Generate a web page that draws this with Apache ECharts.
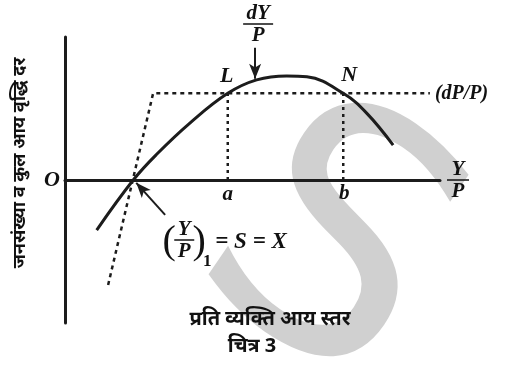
<!DOCTYPE html>
<html>
<head>
<meta charset="utf-8">
<script src="https://cdn.jsdelivr.net/npm/echarts@6/dist/echarts.min.js"></script>
<style>
  html, body { margin: 0; padding: 0; background: #fff; }
  #chart { width: 513px; height: 365px; }
</style>
</head>
<body>
<div id="chart"></div>
<script>
// income growth curve dY/P
var incomeX = [8.45, 18.2, 24.45, 33.3, 43.4, 51.1, 59.1, 64.5, 74.2, 80.5, 87.5]
var incomeY = [-17.5, 0, 9.0, 19.9, 30.3, 35.0, 36.4, 36.1, 30.3, 23.3, 12.2]
// population growth dP/P (dotted)
var popX = [11.5, 23.5, 97.3]
var popY = [-36.7, 30.3, 30.3]
// marked points
var pointL = [43.4, 30.3]
var pointN = [74.2, 30.3]
var pointX = [18.2, 0]

var ink = '#1c1c1c'
var serif = '"Liberation Serif", "DejaVu Serif", serif'
var hindi = '"Noto Sans", "DejaVu Sans", sans-serif'

function zip (xs, ys) {
  return xs.map(function (x, i) { return [x, ys[i]] })
}

var chart = echarts.init(document.getElementById('chart'), null, { renderer: 'canvas' })

chart.setOption({
  animation: false,
  backgroundColor: '#fff',
  grid: { left: 65, right: 73, top: 37, bottom: 42 },
  xAxis: {
    type: 'value', min: 0, max: 100,
    axisLine: { onZero: true, lineStyle: { color: ink, width: 3 } },
    axisTick: { show: false }, axisLabel: { show: false }, splitLine: { show: false }
  },
  yAxis: {
    type: 'value', min: -50, max: 50,
    axisLine: { show: true, onZero: false, lineStyle: { color: ink, width: 3 } },
    axisTick: { show: false }, axisLabel: { show: false }, splitLine: { show: false }
  },
  series: [
    {
      type: 'line', data: zip(incomeX, incomeY), smooth: 0.4, symbol: 'none',
      lineStyle: { color: ink, width: 3 }, z: 5,
      markLine: {
        silent: true, symbol: ['none', 'arrow'], symbolSize: [9, 15],
        label: { show: false },
        lineStyle: { color: ink, width: 2, type: 'solid' },
        data: [
          [{ coord: [50.7, 46.2] }, { coord: [50.7, 35.4] }],
          [{ coord: [26.7, -12.2] }, { coord: [19.0, -1.0] }]
        ]
      }
    },
    {
      type: 'line', data: zip(popX, popY), symbol: 'none',
      lineStyle: { color: ink, width: 2.5, type: [4, 4] }, z: 4
    },
    {
      type: 'line', data: [[pointL[0], 0], pointL], symbol: 'none',
      lineStyle: { color: ink, width: 2.5, type: [3, 4] }, z: 4
    },
    {
      type: 'line', data: [[pointN[0], 0], pointN], symbol: 'none',
      lineStyle: { color: ink, width: 2.5, type: [3, 4] }, z: 4
    }
  ]
})

function px (pt) {
  return chart.convertToPixel({ gridIndex: 0 }, pt)
}

function txt (x, y, s, size, extra) {
  var style = {
    x: x, y: y, text: s, fill: '#111',
    fontFamily: serif, fontSize: size, fontStyle: 'italic', fontWeight: 'bold',
    align: 'center', verticalAlign: 'middle'
  }
  for (var k in (extra || {})) style[k] = extra[k]
  return { type: 'text', z: 10, style: style }
}

function deva (x, y, s, size, rot) {
  return {
    type: 'text', z: 10, x: x, y: y, rotation: rot || 0,
    style: { text: s, fill: '#111', fontFamily: hindi, fontSize: size, fontWeight: 'bold', align: 'center', verticalAlign: 'middle' }
  }
}

function frac (cx, cy, num, den, size, w) {
  return [
    txt(cx, cy - size * 0.5, num, size),
    { type: 'line', z: 10, shape: { x1: cx - w / 2, y1: cy, x2: cx + w / 2, y2: cy }, style: { stroke: '#111', lineWidth: 1.5 } },
    txt(cx, cy + size * 0.55, den, size)
  ]
}

var pL = px(pointL)
var pN = px(pointN)
var o = px([0, 0])
var xEnd = px([100, 0])
var popEnd = px([popX[2], popY[2]])
var tip = px([50.7, 46.2])
var p1 = px(pointX)

var els = [
  // watermark
  {
    type: 'text', z: -5, rotation: -0.6, x: 322, y: 258,
    style: { text: 'S', fill: '#d0d0d0', fontFamily: '"DejaVu Sans", sans-serif', fontSize: 340, align: 'center', verticalAlign: 'middle' }
  },
  txt(o[0] - 13, o[1], 'O', 22),
  txt(pL[0] - 1, pL[1] - 17, 'L', 22),
  txt(pN[0] + 6, pN[1] - 18, 'N', 22),
  txt(pL[0], o[1] + 15, 'a', 21),
  txt(pN[0] + 1, o[1] + 14, 'b', 21),
  txt(popEnd[0] + 5, popEnd[1], '(dP/P)', 20, { align: 'left' }),
  deva(20, 163, 'जनसंख्या व कुल आय वृद्धि दर', 18, Math.PI / 2),
  deva(270, 319, 'प्रति व्यक्ति आय स्तर', 20),
  deva(252, 346, 'चित्र 3', 20),
  // (Y/P)1 = S = X
  txt(p1[0] + 36, 242, '(', 40, { fontStyle: 'normal', fontWeight: 'normal' }),
  txt(p1[0] + 66, 242, ')', 40, { fontStyle: 'normal', fontWeight: 'normal' }),
  txt(p1[0] + 74, 262, '1', 17, { fontStyle: 'normal' }),
  txt(p1[0] + 82, 242, '= S = X', 23, { align: 'left' })
]

els = els.concat(frac(tip[0] + 3, 24, 'dY', 'P', 21, 30))
els = els.concat(frac(xEnd[0] + 18, o[1], 'Y', 'P', 21, 22))
els = els.concat(frac(p1[0] + 51, 240, 'Y', 'P', 21, 20))

chart.setOption({ graphic: { elements: els } })
</script>
</body>
</html>
